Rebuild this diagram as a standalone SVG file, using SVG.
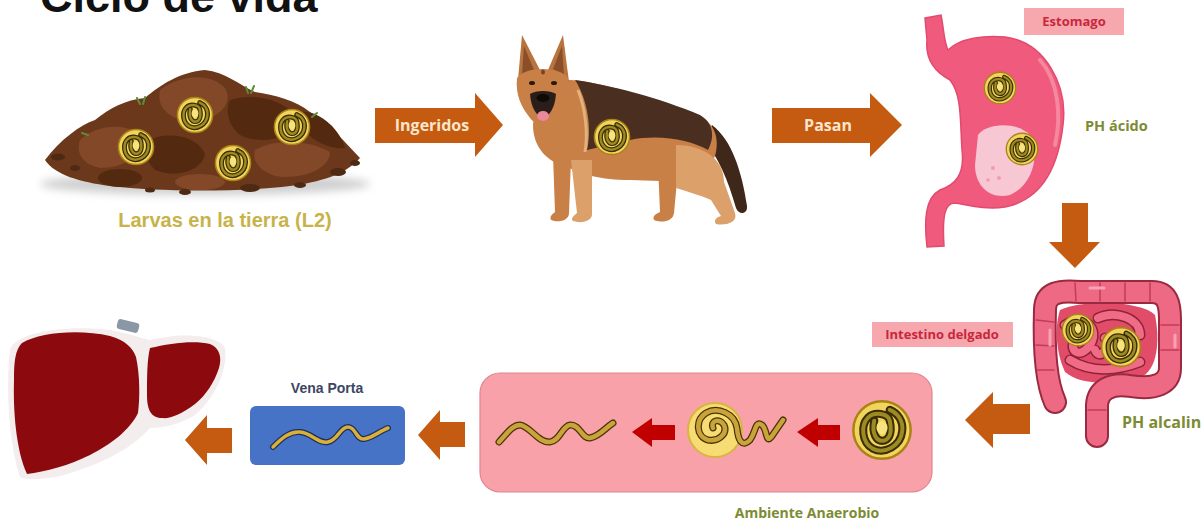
<svg xmlns="http://www.w3.org/2000/svg" width="1201" height="527" viewBox="0 0 1201 527">
  <style>
    .title { font-family: "Liberation Sans", Arial, sans-serif; font-weight: bold; font-size: 45px; fill: #111; }
    .lbl { font-family: "Open Sans", "Liberation Sans", sans-serif; font-weight: bold; }
    .olive { fill: #7d8b34; font-size: 14px; }
    .tag { fill: #c8283c; font-size: 13px; text-anchor: middle; }
    .tagbox { fill: #f7a7ae; }
    .arrowtxt { fill: #fbe6cc; font-size: 16px; text-anchor: middle; }
    .orange { fill: #c55a11; }
    .red { fill: #c00000; }
    .wormOut { fill: none; stroke: #4a3208; stroke-width: 7; stroke-linecap: round; stroke-linejoin: round; }
    .wormIn { fill: none; stroke: #c9a43a; stroke-width: 4.5; stroke-linecap: round; stroke-linejoin: round; }
    .soil1 { fill: #6b381b; }
    .soil2 { fill: #834828; }
    .soil3 { fill: #53290f; }
    .rock { fill: #4e2a14; }
    .grass { fill: none; stroke: #5c8e34; stroke-width: 2; stroke-linecap: round; }
    .tan { fill: #c98047; }
    .tanL { fill: #dca06a; }
    .saddle { fill: #4a2e20; }
    .gut { fill: none; stroke-linecap: round; stroke-linejoin: round; }
    .lobe { fill: #8c0a0e; }
  </style>
  <defs>
    <!-- encysted coiled larva -->
    <symbol id="cyst" viewBox="-20 -20 40 40">
      <circle r="18.5" fill="#f2d35c" stroke="#a88416" stroke-width="1.6"/>
      <path d="M -5,-6 C -7,3 -3,7 0,7 C 4,7 7,3 5,-6 C 4,-11 -5,-12 -9,-8 C -14,-3 -13,8 -6,12 C 2,16 12,10 13,1 C 14,-6 10,-11 5,-13" fill="none" stroke="#3a2c05" stroke-width="5.2" stroke-linecap="round"/>
      <path d="M -5,-6 C -7,3 -3,7 0,7 C 4,7 7,3 5,-6 C 4,-11 -5,-12 -9,-8 C -14,-3 -13,8 -6,12 C 2,16 12,10 13,1 C 14,-6 10,-11 5,-13" fill="none" stroke="#9c8a22" stroke-width="2.6" stroke-linecap="round"/>
      <ellipse cx="0" cy="-1.5" rx="3.6" ry="4.2" fill="#f7e47e"/>
    </symbol>
    <filter id="soft" x="-20%" y="-50%" width="140%" height="200%">
      <feGaussianBlur stdDeviation="4"/>
    </filter>
  </defs>

  <rect width="1201" height="527" fill="#ffffff"/>

  <text class="title" x="40" y="12">Ciclo de vida</text>

  <!-- soil with larvae -->
  <g id="soil">
    <ellipse cx="205" cy="184" rx="165" ry="11" fill="#cfcfcf" filter="url(#soft)"/>
    <path class="soil1" d="M 45,160 C 60,140 80,125 95,120 C 110,108 125,100 145,98 C 160,85 180,72 205,70 C 225,72 240,85 255,92 C 275,95 295,100 310,112 C 330,125 345,142 360,158 C 345,175 320,182 290,186 C 240,192 160,192 110,186 C 80,182 55,175 45,160 Z"/>
    <path class="soil2" d="M 160,90 C 180,75 210,72 225,88 C 235,105 215,120 195,122 C 175,122 155,110 160,90 Z"/>
    <path class="soil3" d="M 230,100 C 255,92 285,100 300,120 C 290,140 260,145 240,135 C 228,125 225,110 230,100 Z"/>
    <path class="soil2" d="M 80,140 C 95,125 125,122 140,135 C 145,155 125,168 100,168 C 85,165 75,155 80,140 Z"/>
    <path class="soil3" d="M 150,140 C 170,130 200,138 205,155 C 200,172 175,178 155,170 C 145,160 143,150 150,140 Z"/>
    <path class="soil2" d="M 255,150 C 275,138 310,140 330,152 C 330,170 300,180 275,176 C 258,170 252,160 255,150 Z"/>
    <path class="soil3" d="M 300,112 C 320,110 340,130 345,148 C 330,150 310,140 300,125 Z"/>
    <ellipse class="soil3" cx="120" cy="178" rx="22" ry="9"/>
    <ellipse class="soil2" cx="200" cy="182" rx="25" ry="8"/>
    <ellipse class="rock" cx="58" cy="157" rx="7" ry="3.5"/>
    <ellipse class="rock" cx="75" cy="168" rx="5" ry="3"/>
    <ellipse class="rock" cx="338" cy="172" rx="8" ry="4"/>
    <ellipse class="rock" cx="355" cy="163" rx="5" ry="3"/>
    <ellipse class="rock" cx="250" cy="188" rx="10" ry="4"/>
    <ellipse class="rock" cx="185" cy="192" rx="6" ry="3"/>
    <ellipse class="rock" cx="150" cy="190" rx="5" ry="2.5"/>
    <ellipse class="rock" cx="300" cy="185" rx="6" ry="3"/>
    <path class="grass" d="M 140,104 l -3,-6 M 143,104 l 2,-7 M 248,93 l -2,-6 M 251,93 l 3,-7 M 88,135 l -6,-2 M 312,117 l 5,-4"/>
    <use href="#cyst" x="117" y="128" width="38" height="38"/>
    <use href="#cyst" x="176" y="96" width="38" height="38"/>
    <use href="#cyst" x="214" y="144" width="38" height="38"/>
    <use href="#cyst" x="273" y="108" width="38" height="38"/>
    <text class="lbl" x="225" y="227" text-anchor="middle" style="font-family:'Liberation Sans',Arial,sans-serif;font-size:20px;fill:#c8b34a">Larvas en la tierra (L2)</text>
  </g>

  <!-- dog host -->
  <g id="dog">
    <path d="M 712,125 C 732,140 742,172 747,206 C 748,214 739,216 736,208 C 728,180 718,156 704,141 Z" fill="#3f2719"/>
    <path class="tan" d="M 658,165 L 678,170 L 674,213 C 673,222 661,223 654,220 C 652,216 656,214 660,212 Z"/>
    <path class="tan" d="M 553,155 L 571,158 L 569,213 C 569,221 558,223 551,220 C 549,216 553,214 555,212 Z"/>
    <path class="tan" d="M 560,80 C 590,78 640,95 690,112 C 710,118 720,132 716,152 C 712,170 700,178 690,182 L 630,180 C 600,180 582,174 567,167 C 547,162 533,147 533,125 C 535,105 545,85 560,80 Z"/>
    <path class="tanL" d="M 571,160 L 592,160 L 592,213 C 593,221 582,224 573,221 C 570,218 575,215 577,213 Z"/>
    <path class="tanL" d="M 676,145 C 702,145 724,158 724,182 L 735,213 C 738,222 727,226 716,224 C 713,220 717,217 721,216 L 711,200 C 700,195 688,192 676,188 Z"/>
    <path class="saddle" d="M 575,80 C 610,85 660,98 700,115 C 712,122 716,135 708,150 C 690,140 660,134 630,140 C 612,143 598,148 587,150 C 592,130 588,100 575,80 Z"/>
    <path d="M 578,90 C 586,110 588,135 585,152" fill="none" stroke="#e2b27c" stroke-width="3"/>
    <path d="M 518,80 L 522,35 L 541,72 Z" fill="#b8733e"/>
    <path d="M 548,70 L 563,35 L 569,82 Z" fill="#b8733e"/>
    <path d="M 522,74 L 524,46 L 534,70 Z" fill="#8a4f28"/>
    <path d="M 553,69 L 562,46 L 564,76 Z" fill="#8a4f28"/>
    <path class="tan" d="M 517,78 C 515,95 522,108 530,118 C 536,126 550,126 556,118 C 564,108 571,95 568,78 C 560,66 525,66 517,78 Z"/>
    <path d="M 530,94 C 531,108 537,117 543,117 C 549,117 555,108 556,94 C 550,90 536,90 530,94 Z" fill="#2a1e1a"/>
    <ellipse cx="543" cy="98" rx="6.5" ry="4" fill="#0e0a08"/>
    <ellipse cx="543" cy="116" rx="6" ry="5" fill="#e9899a"/>
    <ellipse cx="532" cy="83" rx="3" ry="2" fill="#2a1810"/>
    <ellipse cx="554" cy="83" rx="3" ry="2" fill="#2a1810"/>
    <ellipse cx="543" cy="72" rx="2" ry="2.5" fill="#7a4420"/>
    <use href="#cyst" x="593" y="118" width="38" height="38"/>
  </g>

  <!-- stomach -->
  <g id="stomach">
    <path d="M 925,18 L 941,15 C 944,30 944,42 948,50 C 960,38 985,35 1005,37 C 1045,42 1068,85 1063,125 C 1058,170 1040,200 1005,207 C 985,210 968,205 955,203 C 945,203 942,215 944,246 L 927,247 C 924,220 925,198 940,190 C 955,185 965,175 962,150 C 960,120 962,95 950,80 C 935,72 925,60 927,40 Z" fill="#f05a7c" stroke="#e44a6e" stroke-width="1.5"/>
    <path d="M 1040,60 C 1058,80 1062,115 1055,145" fill="none" stroke="#f5889f" stroke-width="4" stroke-linecap="round"/>
    <path d="M 978,135 C 985,124 1015,120 1030,135 C 1040,152 1034,185 1010,195 C 990,200 975,186 975,165 Z" fill="#f8c7d4"/>
    <circle cx="993" cy="168" r="2" fill="#f39bb3"/>
    <circle cx="999" cy="178" r="2" fill="#f39bb3"/>
    <circle cx="988" cy="180" r="1.8" fill="#f39bb3"/>
    <use href="#cyst" x="983" y="71" width="34" height="34"/>
    <use href="#cyst" x="1005" y="132" width="34" height="34"/>
    <rect class="tagbox" x="1024" y="8" width="100" height="27"/>
    <text class="lbl tag" x="1074" y="26">Estomago</text>
    <text class="lbl olive" x="1085" y="131" style="font-size:14.5px">PH ácido</text>
  </g>

  <!-- intestine -->
  <g id="intestine">
    <path d="M 1060,310 C 1080,300 1140,300 1155,315 C 1160,340 1158,370 1140,378 C 1110,385 1080,385 1065,372 C 1055,350 1055,325 1060,310 Z" fill="#e14c69"/>
    <path class="gut" stroke="#8f2238" stroke-width="11" d="M 1065,325 C 1085,312 1100,330 1090,345 C 1080,360 1068,350 1075,340 M 1098,318 C 1115,310 1140,318 1140,335 M 1070,360 C 1090,372 1115,372 1140,362 M 1095,350 C 1100,362 1112,345 1105,338"/>
    <path class="gut" stroke="#ef6b86" stroke-width="8" d="M 1065,325 C 1085,312 1100,330 1090,345 C 1080,360 1068,350 1075,340 M 1098,318 C 1115,310 1140,318 1140,335 M 1070,360 C 1090,372 1115,372 1140,362 M 1095,350 C 1100,362 1112,345 1105,338"/>
    <path class="gut" stroke="#9a2a40" stroke-width="24" d="M 1055,402 C 1045,380 1044,340 1045,310 C 1045,292 1060,290 1080,292 L 1152,292 C 1168,292 1170,305 1170,320 L 1170,368 C 1170,384 1155,390 1130,386 C 1110,383 1098,390 1097,405 L 1097,436"/>
    <path class="gut" stroke="#ee6a84" stroke-width="20" d="M 1055,402 C 1045,380 1044,340 1045,310 C 1045,292 1060,290 1080,292 L 1152,292 C 1168,292 1170,305 1170,320 L 1170,368 C 1170,384 1155,390 1130,386 C 1110,383 1098,390 1097,405 L 1097,436"/>
    <path class="gut" stroke="#c23c58" stroke-width="1.5" d="M 1036,320 l 18,2 M 1036,345 l 18,1 M 1037,370 l 17,0 M 1075,283 l 1,18 M 1100,283 l 0,18 M 1125,283 l 0,18 M 1150,283 l 0,18 M 1161,325 l 18,0 M 1161,350 l 18,0 M 1088,410 l 18,0"/>
    <path class="gut" stroke="#f7a3b5" stroke-width="3" d="M 1050,330 l 0,15 M 1090,288 l 14,0 M 1175,335 l 0,12"/>
    <use href="#cyst" x="1061" y="313" width="34" height="34"/>
    <use href="#cyst" x="1100" y="326" width="42" height="42"/>
    <rect class="tagbox" x="872" y="322" width="141" height="25"/>
    <text class="lbl tag" x="942" y="339">Intestino delgado</text>
    <text class="lbl olive" x="1122" y="428" style="font-size:16px">PH alcalino</text>
  </g>

  <!-- anaerobic environment: larva hatches and moults -->
  <g id="anaerobic">
    <rect x="480" y="373" width="452" height="119" rx="20" fill="#f8a1a9" stroke="#e08590" stroke-width="1.2"/>
    <path class="wormOut" d="M 499,442 C 508,432 513,425 520,425 C 530,426 538,443 550,442 C 560,441 562,426 570,425 C 580,424 582,439 590,438 C 600,436 605,428 613,423"/>
    <path class="wormIn" d="M 499,442 C 508,432 513,425 520,425 C 530,426 538,443 550,442 C 560,441 562,426 570,425 C 580,424 582,439 590,438 C 600,436 605,428 613,423"/>
    <polygon class="red" points="675,425 652,425 652,418 632,432 652,447 652,440 675,440"/>
    <circle cx="715" cy="430" r="27" fill="#f6dc72" stroke="#d8b540" stroke-width="2"/>
    <path class="wormOut" d="M 713,428 C 710,420 720,418 724,425 C 728,434 718,442 708,440 C 696,437 695,420 706,413 C 718,406 735,414 737,428 C 738,440 742,448 750,440 C 756,432 755,420 762,425 C 768,430 765,445 772,436 L 783,420"/>
    <path class="wormIn" d="M 713,428 C 710,420 720,418 724,425 C 728,434 718,442 708,440 C 696,437 695,420 706,413 C 718,406 735,414 737,428 C 738,440 742,448 750,440 C 756,432 755,420 762,425 C 768,430 765,445 772,436 L 783,420"/>
    <polygon class="red" points="840,425 818,425 818,418 797,432 818,447 818,440 840,440"/>
    <use href="#cyst" x="851" y="399" width="62" height="62"/>
    <text class="lbl olive" x="807" y="518" text-anchor="middle">Ambiente Anaerobio</text>
  </g>

  <!-- portal vein -->
  <g id="vena-porta">
    <text class="lbl" x="327" y="393" text-anchor="middle" style="font-family:'Liberation Sans',Arial,sans-serif;font-size:14px;fill:#3b4763">Vena Porta</text>
    <rect x="250" y="406" width="155" height="59" rx="6" fill="#4673c6"/>
    <path d="M 273,447 C 282,438 290,431 300,432 C 312,433 318,444 328,442 C 338,440 340,427 348,427 C 356,427 356,440 364,439 C 372,438 380,431 388,428" fill="none" stroke="#1f2d5a" stroke-width="6" stroke-linecap="round"/>
    <path d="M 273,447 C 282,438 290,431 300,432 C 312,433 318,444 328,442 C 338,440 340,427 348,427 C 356,427 356,440 364,439 C 372,438 380,431 388,428" fill="none" stroke="#d8b03a" stroke-width="3.5" stroke-linecap="round"/>
  </g>

  <!-- liver -->
  <g id="liver">
    <ellipse cx="75" cy="453" rx="14" ry="8" fill="#7ab83c"/>
    <path d="M 10,350 C 14,334 60,324 110,330 C 125,332 140,338 150,340 C 175,334 215,332 225,348 C 228,370 215,398 195,415 C 180,424 165,428 150,428 C 130,450 100,465 60,476 C 40,480 25,480 20,477 C 8,440 6,385 10,350 Z" fill="#f4eded"/>
    <path class="lobe" d="M 22,343 C 40,332 80,329 110,336 C 125,340 133,348 136,357 C 140,375 140,398 138,413 C 130,430 110,445 90,455 C 70,465 45,472 27,474 C 16,450 13,410 14,380 C 14,362 15,350 22,343 Z"/>
    <path class="lobe" d="M 150,348 C 170,343 195,340 210,344 C 220,348 222,358 219,368 C 214,383 206,395 195,404 C 182,414 170,419 162,418 C 150,418 147,408 147,395 C 147,378 147,360 150,348 Z"/>
    <rect x="117" y="321" width="22" height="10" rx="3" fill="#8a97a6" transform="rotate(14 128 326)"/>
  </g>

  <!-- connectors between stages -->
  <g id="connectors">
    <polygon class="orange" points="375,108 475,108 475,93 503,125 475,157 475,143 375,143"/>
    <text class="lbl arrowtxt" x="432" y="131">Ingeridos</text>
    <polygon class="orange" points="772,108 870,108 870,93 902,125 870,157 870,143 772,143"/>
    <text class="lbl arrowtxt" x="828" y="131">Pasan</text>
    <polygon class="orange" points="1062,203 1088,203 1088,242 1100,242 1075,268 1049,242 1062,242"/>
    <polygon class="orange" points="1030,404 993,404 993,392 965,420 993,448 993,434 1030,434"/>
    <polygon class="orange" points="465,422 440,422 440,410 418,435 440,460 440,447 465,447"/>
    <polygon class="orange" points="232,428 207,428 207,415 185,440 207,465 207,453 232,453"/>
  </g>
</svg>
